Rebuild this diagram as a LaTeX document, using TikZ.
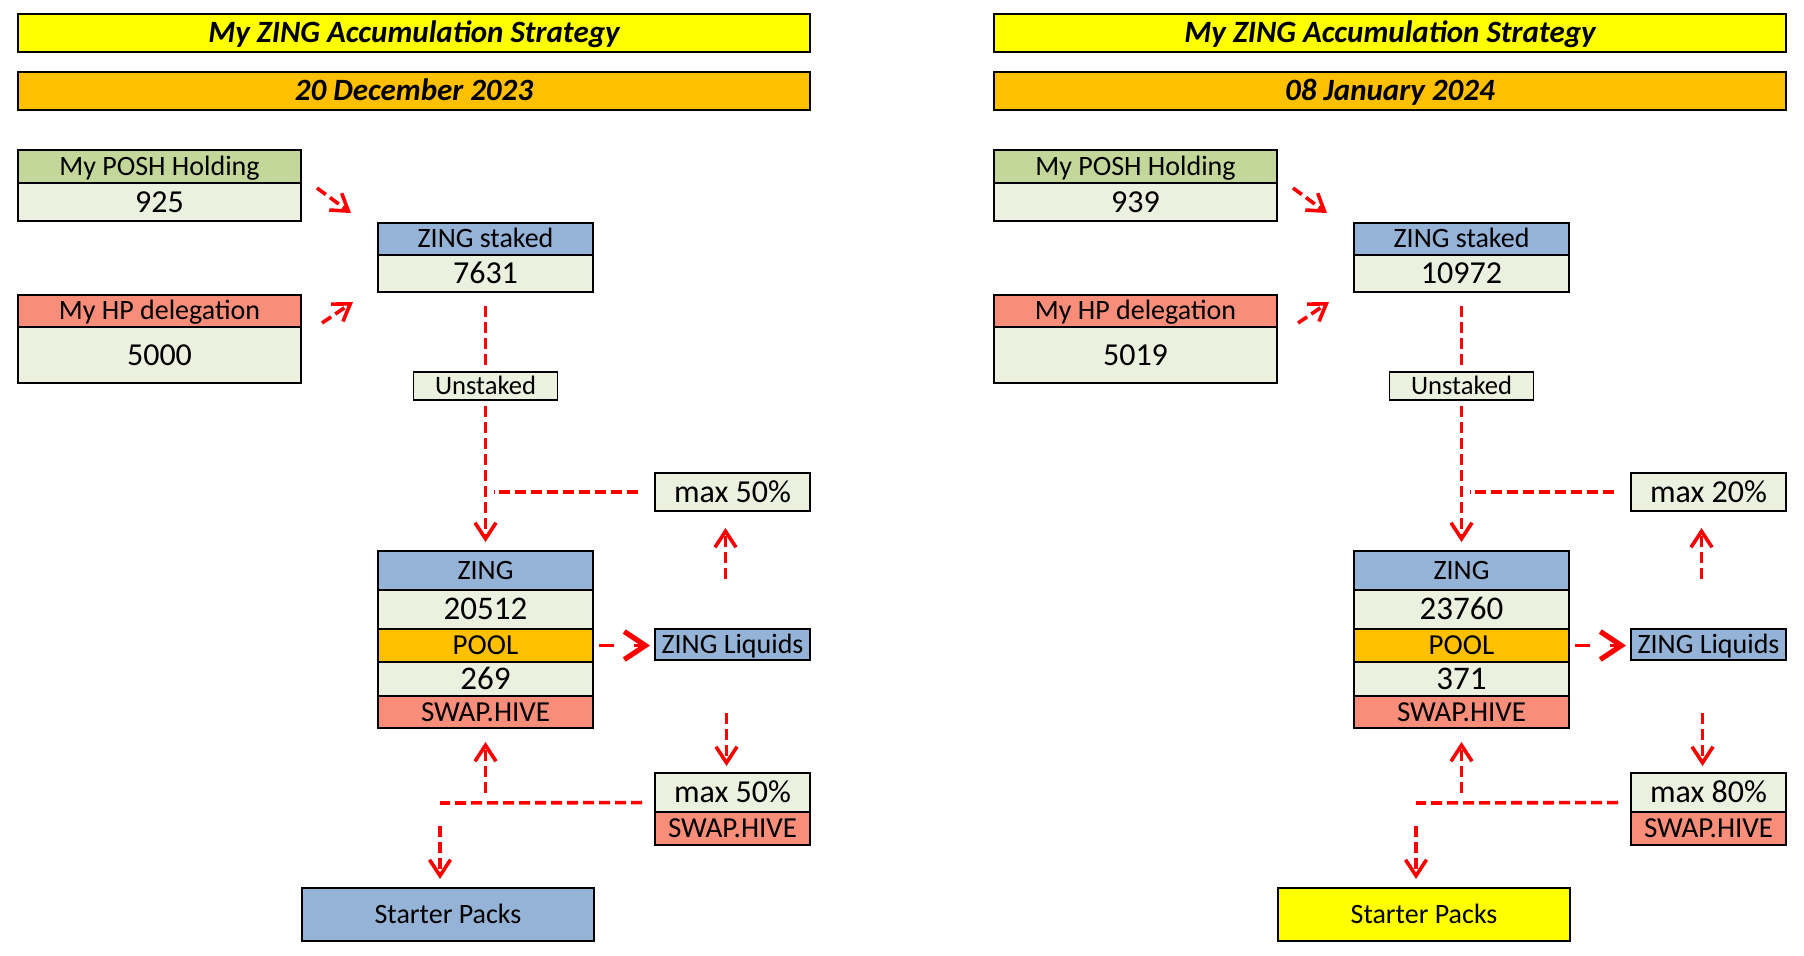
\documentclass[tikz,border=0pt]{standalone}
\usepackage{fontspec}
\setmainfont{Carlito}
\usetikzlibrary{positioning,arrows.meta}

\definecolor{titleyellow}{HTML}{FFFF00}
\definecolor{dateorange}{HTML}{FFC000}
\definecolor{poshgreen}{HTML}{C4D79B}
\definecolor{cellgreen}{HTML}{EBF1DE}
\definecolor{hpsalmon}{HTML}{F88D7A}
\definecolor{zingblue}{HTML}{95B3D7}
\definecolor{flowred}{HTML}{FF0000}

\tikzset{
  cell/.style={draw, line width=1.2pt, inner sep=0pt, outer sep=0pt,
    text height=8.8pt, text depth=0pt, font=\fontsize{14}{16}\selectfont},
  numcell/.style={cell, fill=cellgreen, text height=10.1pt, font=\fontsize{16}{18}\selectfont},
  stacknum/.style={numcell, minimum width=107.5pt, text height=10.4pt, font=\fontsize{16.5}{18}\selectfont},
  bigtext/.style={text height=9.1pt, font=\fontsize{14.5}{16}\selectfont},
  banner/.style={cell, minimum width=396pt, minimum height=19pt, text height=9.8pt,
    font=\fontsize{15.5}{18}\selectfont\bfseries\itshape},
  flow/.style={draw=flowred, line width=1.8pt, dash pattern=on 5.5pt off 2.5pt},
  tip/.style={-{Straight Barb[length=8pt,width=10.5pt,line width=1.8pt]}},
  bigtip/.style={-{Straight Barb[length=10.5pt,width=14pt,line width=2.6pt]}},
}

\begin{document}
\begin{tikzpicture}[x=0.5pt, y=-0.5pt]
  \useasboundingbox (0,0) rectangle (1804,955);

  \foreach \dx/\pdate/\pposh/\php/\pstaked/\pzing/\ppool/\pup/\pdown/\ppack in {
      0/20 December 2023/925/5000/7631/20512/269/50/50/zingblue,
      488/08 January 2024/939/5019/10972/23760/371/20/80/titleyellow}{
  \begin{scope}[xshift=\dx pt, name prefix=P\dx-]
    % Banners
    \node[banner, fill=titleyellow, anchor=north west] (title) at (18,14) {My ZING Accumulation Strategy};
    \node[banner, fill=dateorange, anchor=north west] (date) at (18,72) {\pdate};

    % Holdings
    \node[cell, fill=poshgreen, minimum width=141.5pt, minimum height=16.5pt, anchor=north west] (posh) at (18,150) {My POSH Holding};
    \node[numcell, minimum width=141.5pt, minimum height=19pt, below=0pt of posh] (posh-val) {\pposh};
    \node[cell, fill=hpsalmon, minimum width=141.5pt, minimum height=16pt, anchor=north west] (hp) at (18,295) {My HP delegation};
    \node[numcell, minimum width=141.5pt, minimum height=28pt, below=0pt of hp] (hp-val) {\php};

    % Staked
    \node[cell, fill=zingblue, minimum width=107.5pt, minimum height=16pt, anchor=north west] (staked) at (378,223) {ZING staked};
    \node[numcell, minimum width=107.5pt, minimum height=18.5pt, below=0pt of staked] (staked-val) {\pstaked};
    \node[cell, fill=cellgreen, line width=0.8pt, minimum width=72pt, minimum height=14pt, text height=8.4pt, font=\fontsize{13.3}{15}\selectfont, below=40pt of staked-val] (unstaked) {Unstaked};

    % ZING stack
    \node[cell, fill=zingblue, minimum width=107.5pt, minimum height=19.5pt, anchor=north west] (zing) at (378,551) {ZING};
    \node[stacknum, minimum height=19.5pt, below=0pt of zing] (zing-val) {\pzing};
    \node[cell, bigtext, fill=dateorange, minimum width=107.5pt, minimum height=16.5pt, below=0pt of zing-val] (pool) {POOL};
    \node[stacknum, minimum height=17pt, below=0pt of pool] (pool-val) {\ppool};
    \node[cell, bigtext, fill=hpsalmon, minimum width=107.5pt, minimum height=16pt, below=0pt of pool-val] (swap) {SWAP.HIVE};

    % Right column
    \node[numcell, minimum width=77.5pt, minimum height=19pt, anchor=north west] (max-up) at (655,473) {max \pup\%};
    \node[cell, fill=zingblue, minimum width=77.5pt, minimum height=15.5pt, anchor=north west] (liquids) at (655,629) {ZING Liquids};
    \node[numcell, minimum width=77.5pt, minimum height=19.5pt, anchor=north west] (max-down) at (655,773) {max \pdown\%};
    \node[cell, bigtext, fill=hpsalmon, minimum width=77.5pt, minimum height=16.5pt, below=0pt of max-down] (max-swap) {SWAP.HIVE};

    % Starter packs
    \node[cell, fill=\ppack, minimum width=146pt, minimum height=26.5pt, anchor=north west] (packs) at (302,888) {Starter Packs};
    \coordinate (split) at (440,803);

    % Flows
    \draw[flow, tip] ([shift={(16,5)}]posh-val.north east) -- ([shift={(-27,-10)}]staked.north west);
    \draw[flow, tip] ([shift={(21,-4)}]hp.south east) -- ([shift={(-25,28.5)}]staked-val.west);
    \draw[flow, shorten <=7pt, shorten >=3pt] (staked-val) -- (unstaked);
    \draw[flow, tip, shorten <=3pt, shorten >=4.5pt] (unstaked) -- (zing);
    \draw[flow, shorten <=8.5pt, shorten >=4pt] (max-up.west) -- (max-up.west -| unstaked.south);
    \draw[flow, tip, shorten <=25pt, shorten >=8.5pt] ([xshift=-3.5pt]liquids.north) -- ([xshift=-3.5pt]max-up.south);
    \draw[flow, bigtip, dash pattern=on 7.5pt off 10pt, shorten <=3pt, shorten >=2.5pt] (pool.east) -- (pool.east -| liquids.west);
    \draw[flow, tip, shorten <=26.5pt, shorten >=3.5pt] ([xshift=-3pt]liquids.south) -- ([xshift=-3pt]max-down.north);
    \draw[flow, shorten <=6.5pt] ([yshift=-5pt]max-down.west) -- (split);
    \draw[flow, tip, shorten <=11.5pt, shorten >=4.5pt] (split) -- (split |- packs.north);
    \draw[flow, tip, shorten <=5pt, shorten >=7pt] (split -| swap.south) -- (swap.south);
  \end{scope}
  }
\end{tikzpicture}
\end{document}
